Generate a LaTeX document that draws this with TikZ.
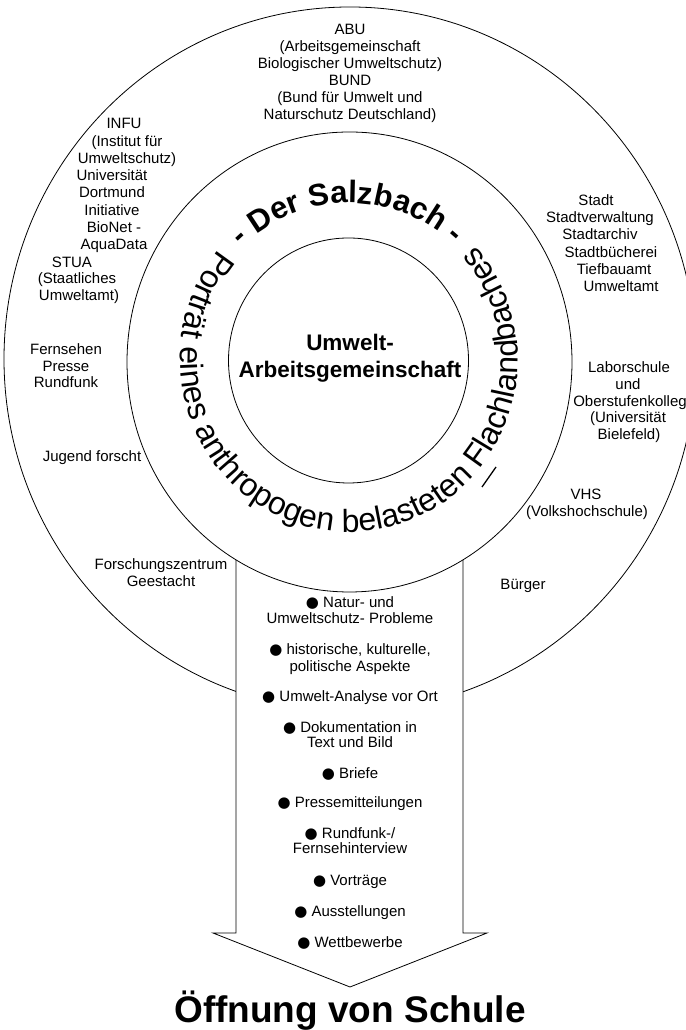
\documentclass[tikz,border=0pt]{standalone}
\usepackage{fontspec}
\setmainfont{Liberation Sans}
\newfontfamily\symfont{DejaVu Sans}
\usetikzlibrary{shapes.geometric,decorations.text}
\newcommand\mybul{{\symfont ●}\ }
\begin{document}
\begin{tikzpicture}[x=1pt,y=1pt,line width=0.8pt,
  lbl/.style={anchor=base,inner sep=0pt,font=\fontsize{15}{17}\selectfont},
  ring/.style={ellipse,draw,inner sep=0pt},
  centre/.style={anchor=base,inner sep=0pt,font=\fontsize{22.5}{27}\selectfont\bfseries}]
\useasboundingbox (0,0) rectangle (685,1030);

% rings
\node[ring,minimum width=692pt,minimum height=704pt] (outer) at (350,671) {};
\fill[white] (236,97) rectangle (463,482);
\node[ring,minimum width=445pt,minimum height=460pt] (middle) at (349.5,668) {};
\node[ring,minimum width=240pt,minimum height=245pt] (inner) at (348.5,669.5) {};

% arrow
\coordinate (sl) at (236,470.2);
\coordinate (sr) at (463,470.2);
\coordinate (bl) at (236,97);
\coordinate (br) at (463,97);
\coordinate (hl) at (213,97);
\coordinate (hr) at (487,97);
\coordinate (tip) at (350,43);
\draw[line join=miter] (sl) -- (bl) -- (hl) -- (tip) -- (hr) -- (br) -- (sr);

% curved texts
\path[shift={(349,670)},decorate,decoration={text along path,
  text={|\fontsize{31}{31}\selectfont\bfseries|- Der Salzbach -},text align={fit to path}}]
  (134:154 and 157) arc[start angle=134,end angle=47.3,x radius=154,y radius=157];
\path[shift={(349,670)},decorate,decoration={text along path,
  text={|\fontsize{32}{32}\selectfont|Porträt eines anthropogen belasteten Flachlandbaches},text align={fit to path}}]
  (140.2:169 and 172) arc[start angle=140.2,end angle=401.5,x radius=169,y radius=172];
\coordinate (m1) at (482,543);
\coordinate (m2) at (496,563);
\draw[line width=1.3pt] (m1) -- (m2);

% centre
\node[centre] (c1) at (350,679) {Umwelt-};
\node[centre] (c2) at (350,652) {Arbeitsgemeinschaft};

% outer ring labels
\foreach \x/\y/\t [count=\i] in {
  350/995/{ABU}, 350/978/{(Arbeitsgemeinschaft}, 350/961/{Biologischer Umweltschutz)},
  350/944/{BUND}, 350/927/{(Bund für Umwelt und}, 350/910/{Naturschutz Deutschland)},
  124/901/{INFU}, 127/883/{(Institut für}, 127/866/{Umweltschutz)},
  112/849/{Universität}, 112/832/{Dortmund}, 112/814/{Initiative},
  114/797/{BioNet -}, 114/780/{AquaData},
  72/762/{STUA}, 77/746/{(Staatliches}, 79/729/{Umweltamt)},
  66/675/{Fernsehen}, 66/658/{Presse}, 66/642/{Rundfunk},
  92/568/{Jugend forscht},
  161/460/{Forschungszentrum}, 161/443/{Geestacht},
  523/440/{Bürger},
  596/824/{Stadt}, 600/807/{Stadtverwaltung}, 600/790/{Stadtarchiv},
  611/772/{Stadtbücherei}, 614/755/{Tiefbauamt}, 621/738/{Umweltamt},
  629/657/{Laborschule}, 628/640/{und}, 630/623/{Oberstufenkolleg},
  628/607/{(Universität}, 629/590/{Bielefeld)},
  586/530/{VHS}, 587/513/{(Volkshochschule)}}
  \node[lbl] (lab\i) at (\x,\y) {\t};

% arrow list
\foreach \y/\t [count=\i] in {
  422/{\mybul Natur- und}, 406/{Umweltschutz- Probleme},
  375/{\mybul historische, kulturelle,}, 358/{politische Aspekte},
  328/{\mybul Umwelt-Analyse vor Ort},
  297/{\mybul Dokumentation in}, 282/{Text und Bild},
  251/{\mybul Briefe},
  222/{\mybul Pressemitteilungen},
  191/{\mybul Rundfunk-/}, 176/{Fernsehinterview},
  144/{\mybul Vorträge},
  113/{\mybul Ausstellungen},
  82/{\mybul Wettbewerbe}}
  \node[lbl] (item\i) at (350,\y) {\t};

% title
\node[anchor=base,inner sep=0pt,font=\fontsize{37}{37}\selectfont\bfseries] (title) at (350,7) {Öffnung von Schule};
\end{tikzpicture}
\end{document}
